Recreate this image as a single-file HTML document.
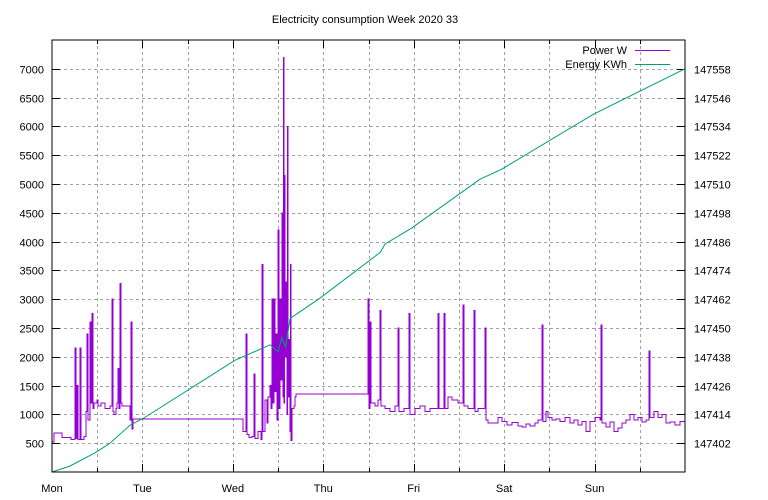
<!DOCTYPE html>
<html><head><meta charset="utf-8"><style>
body{margin:0;background:#fff}
svg{display:block;font-family:"Liberation Sans",sans-serif;font-size:11px}
</style></head><body>
<svg id="c" width="768" height="500">
<text x="365" y="23" text-anchor="middle">Electricity consumption Week 2020 33</text>
<g id="grid"></g><g id="axes"></g><g id="series"></g>
<rect x="52" y="40" width="633" height="432" fill="none" stroke="#000" shape-rendering="crispEdges"/>
<g>
<text x="627" y="54" text-anchor="end">Power W</text>
<line x1="635" y1="50.5" x2="670" y2="50.5" stroke="#9400d3"/>
<text x="627" y="68" text-anchor="end">Energy KWh</text>
<line x1="635" y1="64.5" x2="670" y2="64.5" stroke="#009e73"/>
</g>
</svg>
<script>
const dayLabels=["Mon","Tue","Wed","Thu","Fri","Sat","Sun"];
const leftTicks=[500,1000,1500,2000,2500,3000,3500,4000,4500,5000,5500,6000,6500,7000];
const rightTicks=[147402,147414,147426,147438,147450,147462,147474,147486,147498,147510,147522,147534,147546,147558];
const powerT=[0,0.5,2.7,5.0,6.1,6.4,6.6,6.9,7.4,7.7,8.5,9.0,9.3,9.6,10.1,10.4,10.6,10.9,11.1,11.9,12.2,13.0,14.1,15.4,15.9,16.2,16.5,17.0,17.3,17.5,17.8,18.0,18.3,18.6,19.4,20.7,21.0,21.2,21.5,
50.7,51.5,51.8,52.3,53.1,53.6,53.9,54.7,55.5,55.7,56.0,56.5,57.1,57.3,57.9,58.1,58.4,58.7,58.9,59.2,59.4,59.7,60.0,60.2,60.5,60.8,61.0,61.3,61.4,61.6,61.7,61.8,62.1,62.4,62.5,62.6,62.9,63.2,63.3,63.4,63.7,64.2,64.5,64.8,
83.9,84.1,84.4,84.7,85.7,86.5,87.1,87.3,88.4,89.7,91.0,91.8,92.1,93.4,94.7,95.0,96.3,97.7,99.0,100.3,102.4,102.7,104.0,104.3,105.1,106.2,107.8,109.1,109.3,110.4,112.0,112.3,113.1,114.9,115.2,115.7,117.0,118.4,119.4,120.8,122.1,123.7,124.7,125.8,126.9,128.2,129.0,130.0,130.3,131.1,131.6,132.7,133.8,134.8,136.2,137.5,138.5,139.6,140.7,141.7,142.8,144.1,145.4,145.7,146.0,147.0,148.1,149.2,150.2,151.3,152.3,153.4,154.5,155.5,156.6,157.6,158.4,158.7,159.8,160.8,161.9,162.9,164.0,165.3,166.7,168];
const powerW=[520,680,600,560,2150,580,1500,560,2150,560,620,1050,2400,900,2600,1200,2750,1100,1200,1250,1150,1200,1100,1150,3000,1050,1000,1100,1200,1800,1100,3270,1200,1150,1150,900,2600,750,920,
700,2400,650,600,620,1700,580,700,560,3600,700,1250,850,1300,1500,1100,3000,1200,3000,1400,2400,900,4200,1100,3000,1600,4500,1300,7200,1200,5150,2000,3300,1000,6000,1300,2300,700,3600,550,1100,1150,1300,1350,
3000,1100,2600,1200,1150,1250,2800,1150,1100,1050,1150,2500,1050,1100,2750,1000,1100,1150,1050,1100,2750,1100,2750,1100,1300,1250,1200,2900,1150,1100,2800,1050,1100,2500,900,850,850,950,880,820,860,800,780,830,800,850,900,2550,880,1050,950,900,920,880,950,850,900,820,880,700,880,950,900,2550,850,780,870,700,760,850,900,1000,900,950,870,900,2100,950,1050,950,1000,850,870,820,880,850];
const energyT=[0,4.8,11.4,15.4,20.7,24.4,48.6,57.9,60,61,62,63.2,71.1,87.1,88.4,95.3,113.6,119.2,143.6,168];
const energyK=[147390,147392.5,147398,147402,147409.5,147412.5,147436.6,147443,147440,147446,147442,147454,147462.4,147481.5,147485,147491.5,147512,147516,147539,147558];

const X0=52,X1=685,Y0=472,Y1=40;
const xs=h=>X0+(X1-X0)*h/168;
const yl=v=>Y0-(Y0-Y1)*v/7500;
const yr=v=>Y0-(Y0-Y1)*(v-147390)/180;
const NS="http://www.w3.org/2000/svg";
function mk(tag,parent,attrs){const e=document.createElementNS(NS,tag);for(const k in attrs)e.setAttribute(k,attrs[k]);parent.appendChild(e);return e;}
const grid=document.getElementById('grid'),axes=document.getElementById('axes'),series=document.getElementById('series');
for(let i=1;i<14;i++){const x=Math.round(xs(i*12))+0.5;
 const g=mk('line',grid,{x1:x,x2:x,y1:Y1,y2:Y0,stroke:'#a0a0a0','stroke-dasharray':'3,3'});
 
 
 const t=mk('line',axes,{x1:x,x2:x,y1:Y0,y2:Y0-(i%2?4:8),stroke:'#000'});
 
 
 const t2=mk('line',axes,{x1:x,x2:x,y1:Y1,y2:Y1+(i%2?4:8),stroke:'#000'});
 
 
}
dayLabels.forEach((d,i)=>{const e=mk('text',axes,{x:xs(i*24),y:492,'text-anchor':'middle'});e.textContent=d;
 
 });
leftTicks.forEach(v=>{const y=Math.round(yl(v))+0.5;
 const g=mk('line',grid,{x1:X0,x2:X1,y1:y,y2:y,stroke:'#a0a0a0','stroke-dasharray':'3,3'});
 
 
 const t=mk('line',axes,{x1:X0,x2:X0+8,y1:y,y2:y,stroke:'#000'});
 
 
 const e=mk('text',axes,{x:44,y:y+4,'text-anchor':'end'});e.textContent=v;
 
 });
rightTicks.forEach(v=>{const y=Math.round(yr(v))+0.5;
 const t=mk('line',axes,{x1:X1-8,x2:X1,y1:y,y2:y,stroke:'#000'});
 
 
 const e=mk('text',axes,{x:694,y:y+4});e.textContent=v;
 
 });
let d='';
for(let i=0;i<powerT.length-1;i++){const x=xs(powerT[i]),y=yl(powerW[i]),xn=xs(powerT[i+1]);
 d+=(i?'L':'M')+x.toFixed(1)+' '+y.toFixed(1)+'L'+xn.toFixed(1)+' '+y.toFixed(1);}
const p=mk('path',series,{d:d,fill:'none',stroke:'#9400d3','stroke-width':1,'shape-rendering':'crispEdges'});


let d2='';
energyT.forEach((t,i)=>{d2+=(i?'L':'M')+xs(t).toFixed(1)+' '+yr(energyK[i]).toFixed(1);});
const q=mk('path',series,{d:d2,fill:'none',stroke:'#009e73','stroke-width':1});


</script>
</body></html>
